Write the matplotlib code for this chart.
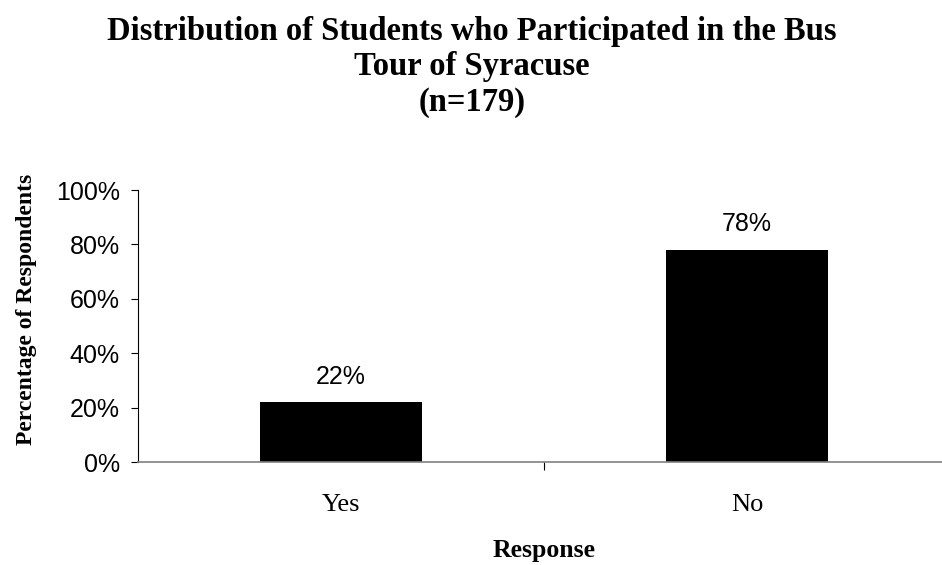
import matplotlib.pyplot as plt

categories = ['Yes', 'No']
values = [22, 78]
yticks = [0, 20, 40, 60, 80, 100]

fig = plt.figure(figsize=(9.42, 5.65), dpi=100)
# axis runs a little past the right edge of the picture, like the original
ax = fig.add_axes([0.1465, 0.1823, 0.862, 0.4814])

x = range(len(categories))
ax.bar(x, values, width=0.4, color='black', zorder=2)
for i, v in zip(x, values):
    ax.text(i, v + 6.8, '%d%%' % v, ha='center', va='baseline',
            family='Liberation Sans', fontsize=18)

ax.set_ylim(0, 100)
ax.set_xlim(-0.5, 1.5)
ax.set_yticks(yticks)
ax.set_yticklabels(['%d%%' % t for t in yticks], family='Liberation Sans', fontsize=18)
ax.set_xticks([0.5])
ax.set_xticklabels([''])
ax.tick_params(axis='x', direction='out', length=6, color='black')
ax.tick_params(axis='y', direction='out', length=5, pad=8)
for i, c in zip(x, categories):
    ax.text(i, -0.18, c, transform=ax.get_xaxis_transform(), ha='center', va='baseline',
            family='Liberation Serif', fontsize=19)

ax.spines['top'].set_visible(False)
ax.spines['right'].set_visible(False)
ax.spines['bottom'].set_color('#808080')
ax.spines['bottom'].set_linewidth(1.2)

ax.set_xlabel('Response', family='Liberation Serif', fontweight='bold', fontsize=18.5, va='baseline')
ax.xaxis.set_label_coords(0.5, -0.349)
ax.set_ylabel('Percentage of Respondents', family='Liberation Serif', fontweight='bold', fontsize=17, va='center')
ax.yaxis.set_label_coords(-0.137, 0.56)

fig.text(0.501, 0.972, 'Distribution of Students who Participated in the Bus\nTour of Syracuse\n(n=179)',
         ha='center', va='top', family='Liberation Serif', fontweight='bold', fontsize=23.5, linespacing=1.18)

fig.savefig('out.png', dpi=100)
